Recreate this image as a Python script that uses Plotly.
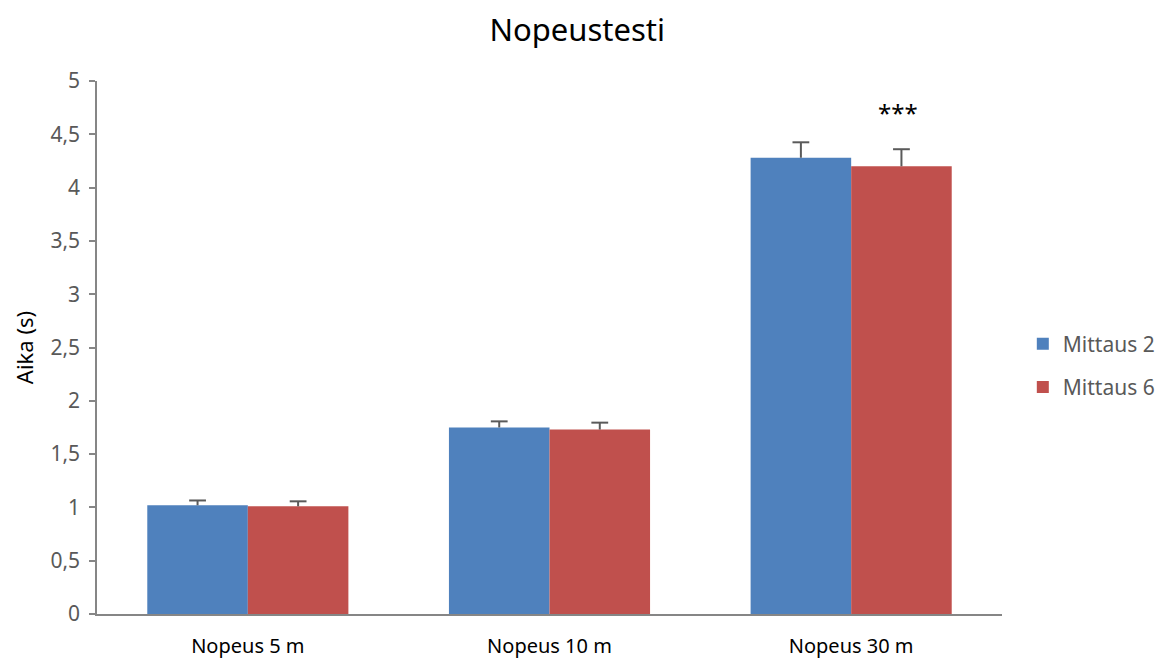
import plotly.graph_objects as go

categories = ["Nopeus 5 m", "Nopeus 10 m", "Nopeus 30 m"]
mittaus2 = [1.02, 1.75, 4.28]
mittaus2_err = [0.045, 0.057, 0.145]
mittaus6 = [1.01, 1.73, 4.20]
mittaus6_err = [0.047, 0.065, 0.16]
y_ticks = [0, 0.5, 1, 1.5, 2, 2.5, 3, 3.5, 4, 4.5, 5]
sig_category = "Nopeus 30 m"
sig_label = "***"

blue = "#4F81BD"
red = "#C0504D"
grey_text = "#595959"
axis_grey = "#868686"
err_grey = "#5a5a5a"
font_main = "Noto Sans, Open Sans, sans-serif"

pos = list(range(len(categories)))
bargap = 1 / 3
bar_w = (1 - bargap) / 2

fig = go.Figure()
series = [("Mittaus 2", mittaus2, mittaus2_err, blue, -bar_w / 2),
          ("Mittaus 6", mittaus6, mittaus6_err, red, bar_w / 2)]
for name, vals, errs, col, off in series:
    fig.add_trace(go.Bar(
        x=pos, y=vals, name=name, legendgroup=name,
        marker=dict(color=col, line=dict(width=0)),
    ))
for name, vals, errs, col, off in series:
    xs, ys = [], []
    for p, v, e in zip(pos, vals, errs):
        xs += [p + off, p + off, None]
        ys += [v, v + e, None]
    fig.add_trace(go.Scatter(
        x=xs, y=ys, mode="lines", line=dict(color=err_grey, width=2),
        showlegend=False, hoverinfo="skip",
    ))
    fig.add_trace(go.Scatter(
        x=[p + off for p in pos], y=[v + e for v, e in zip(vals, errs)],
        mode="markers",
        marker=dict(symbol="line-ew", size=12, line=dict(color=err_grey, width=2)),
        showlegend=False, hoverinfo="skip",
    ))

idx = categories.index(sig_category)
top6 = mittaus6[idx] + mittaus6_err[idx]
fig.add_annotation(
    x=pos[idx] + bar_w / 2, y=top6 + 0.34, xref="x", yref="y", xshift=-3,
    text=sig_label, showarrow=False,
    font=dict(family=font_main, size=24, color="black"),
)

fig.update_layout(
    width=1164, height=660,
    paper_bgcolor="white", plot_bgcolor="white",
    margin=dict(l=89, r=170, t=73, b=54, autoexpand=False),
    separators=", ",
    barmode="group", bargap=bargap, bargroupgap=0,
    title=dict(text="Nopeustesti", x=0.489, xanchor="center", y=0.966, yanchor="middle",
               font=dict(family=font_main, size=31, color="black")),
    legend=dict(x=1.023, y=0.466, xanchor="left", yanchor="middle",
                font=dict(family=font_main, size=21, color=grey_text),
                tracegroupgap=13, itemwidth=30, bgcolor="rgba(0,0,0,0)"),
    showlegend=True,
    xaxis=dict(
        range=[-0.5, 2.5], tickvals=pos, ticktext=categories, automargin=False,
        showline=True, linecolor=axis_grey, linewidth=1.5,
        ticks="", showgrid=False, zeroline=False,
        tickfont=dict(family=font_main, size=20, color="black"),
        ticklabelstandoff=13,
    ),
    yaxis=dict(
        range=[0, 5], tickvals=y_ticks, tickformat="~g", automargin=False,
        showline=True, linecolor=axis_grey, linewidth=1.5,
        ticks="outside", ticklen=6, tickcolor=axis_grey, tickwidth=1.5,
        showgrid=False, zeroline=False,
        tickfont=dict(family=font_main, size=21, color=grey_text),
        ticklabelstandoff=5,
        title=dict(text="Aika (s)", font=dict(family=font_main, size=22, color="black"),
                   standoff=11),
    ),
)

fig.write_html("out.html")
